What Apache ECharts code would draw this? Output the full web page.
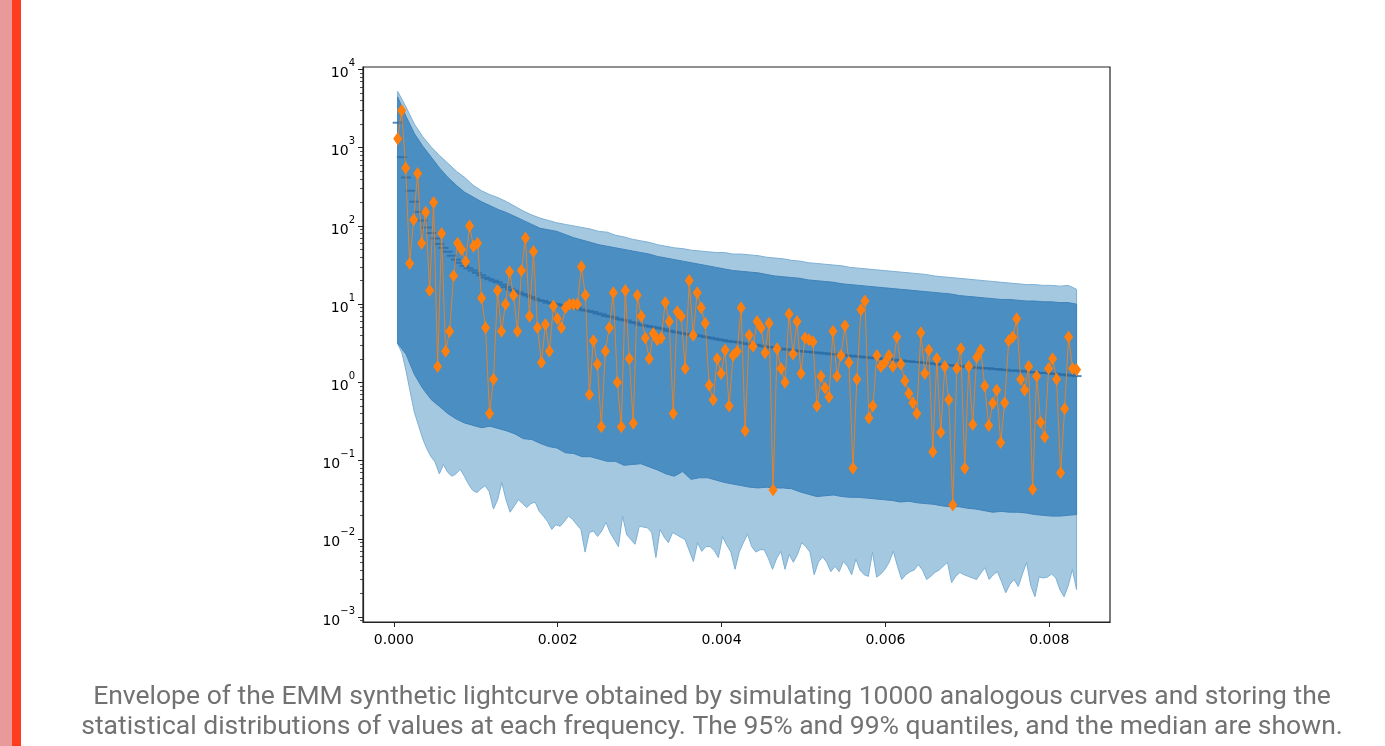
<!DOCTYPE html>
<html><head><meta charset="utf-8">
<script src="https://cdn.jsdelivr.net/npm/echarts@6/dist/echarts.min.js"></script>
<style>html,body{margin:0;padding:0;background:#fff}#c{width:1385px;height:746px}</style>
</head><body><div id="c"></div>
<script>
// frequency range of the periodogram (Hz)
const F_START = 0.0000463, F_END = 0.008333;
const xTicks = [0, 0.002, 0.004, 0.006, 0.008];
const yTicks = [1e-3, 1e-2, 1e-1, 1, 10, 100, 1000, 10000];
const yTickExp = ['−3','−2','−1','0','1','2','3','4'];
const caption1 = 'Envelope of the EMM synthetic lightcurve obtained by simulating 10000 analogous curves and storing the';
const caption2 = 'statistical distributions of values at each frequency. The 95% and 99% quantiles, and the median are shown.';

// observed synthetic lightcurve power (orange diamonds)
const observed = [1300,3000,550,33,120,470,60,150,15,200,1.6,80,2.5,4.5,23,60,50,35,100,55,60,12,5,0.4,1.1,15,4.5,10,26,13,4.5,27,70,7,47,5,1.8,5.5,2.5,9.5,6.5,5,9,10,10,10,30,13,0.7,3.4,1.7,0.27,2.5,5,14,1,0.27,15,2,0.3,13,7,3.7,2,4.2,3.5,3.7,10.5,6,0.4,8,7,1.5,20,4,14,9,5.7,0.92,0.6,2,1.3,2.6,0.5,2.2,2.5,9,0.24,4,2.9,6,5,2.4,5.7,0.042,2.7,1.5,1,7.5,2.3,6,1.3,3.7,3.5,3.3,0.5,1.2,0.85,0.65,4.5,1.2,2.2,5.3,1.8,0.08,1.1,8.5,11,0.35,0.5,2.2,1.6,1.8,2.2,1.6,3.8,1.7,1.05,0.72,0.55,0.4,4.3,1.3,2.6,0.13,2,0.23,1.6,0.6,0.027,1.5,2.7,0.08,1.6,0.29,2.1,2.6,0.9,0.28,0.54,0.8,0.17,0.55,3.4,3.8,6.5,1.1,0.8,1.6,0.043,1.2,0.31,0.2,1.5,2,1.1,0.07,0.46,3.8,1.5,1.45];

// log10 of the median of the simulations
const medianLog = [3.32,2.88,2.62,2.45,2.31,2.18,2.07,1.98,1.91,1.84,1.77,1.72,1.67,1.62,1.57,1.53,1.49,1.46,1.43,1.40,1.37,1.34,1.32,1.30,1.28,1.25,1.22,1.19,1.17,1.15,1.13,1.11,1.09,1.07,1.05,1.04,1.02,1.01,1.00,0.99,0.98,0.97,0.96,0.95,0.93,0.92,0.91,0.90,0.88,0.87,0.85,0.84,0.83,0.81,0.80,0.79,0.77,0.76,0.74,0.73,0.72,0.71,0.70,0.69,0.68,0.66,0.65,0.64,0.63,0.62,0.61,0.61,0.60,0.59,0.58,0.57,0.56,0.55,0.54,0.53,0.52,0.52,0.51,0.50,0.49,0.48,0.48,0.47,0.46,0.45,0.45,0.44,0.43,0.42,0.42,0.41,0.40,0.40,0.39,0.39,0.38,0.38,0.37,0.37,0.36,0.36,0.35,0.35,0.34,0.34,0.33,0.33,0.32,0.32,0.31,0.31,0.30,0.30,0.29,0.29,0.28,0.28,0.27,0.27,0.26,0.26,0.25,0.25,0.24,0.24,0.23,0.23,0.22,0.22,0.21,0.21,0.20,0.20,0.19,0.19,0.18,0.18,0.18,0.17,0.17,0.16,0.16,0.15,0.15,0.15,0.14,0.14,0.13,0.13,0.12,0.12,0.12,0.11,0.11,0.10,0.10,0.09,0.09,0.08];

// log10 of the 99% quantile band (upper / lower)
const upper99Log = [3.72,3.52,3.30,3.14,3.01,2.90,2.80,2.70,2.62,2.52,2.45,2.40,2.36,2.31,2.25,2.19,2.14,2.10,2.07,2.04,2.02,2.00,1.98,1.96,1.93,1.92,1.88,1.86,1.83,1.81,1.79,1.76,1.74,1.72,1.71,1.69,1.68,1.67,1.66,1.66,1.64,1.64,1.63,1.62,1.60,1.59,1.58,1.56,1.55,1.53,1.52,1.51,1.50,1.49,1.47,1.46,1.45,1.44,1.43,1.42,1.41,1.40,1.39,1.38,1.36,1.35,1.34,1.33,1.32,1.31,1.30,1.29,1.28,1.27,1.26,1.25,1.25,1.24,1.24,1.23,1.24,1.19];
const lower99Log = [0.49,0.38,0.15,-0.12,-0.38,-0.55,-0.72,-0.85,-0.95,-1.02,-1.17,-1.05,-1.15,-1.20,-1.17,-1.11,-1.20,-1.30,-1.38,-1.41,-1.36,-1.32,-1.40,-1.62,-1.50,-1.28,-1.50,-1.66,-1.58,-1.50,-1.55,-1.60,-1.55,-1.53,-1.65,-1.71,-1.78,-1.88,-1.82,-1.84,-1.78,-1.71,-1.75,-1.82,-1.88,-2.17,-1.92,-1.90,-1.97,-1.90,-1.79,-1.92,-2.01,-2.10,-1.71,-1.95,-2.01,-2.07,-1.84,-1.85,-1.86,-1.92,-2.24,-1.88,-1.98,-2.05,-1.92,-1.95,-1.98,-2.01,-2.15,-2.29,-2.05,-2.16,-2.10,-2.10,-2.15,-2.24,-1.97,-2.08,-2.17,-2.39,-2.17,-2.05,-1.94,-2.10,-2.17,-2.14,-2.14,-2.25,-2.39,-2.25,-2.16,-2.39,-2.20,-2.30,-2.20,-2.05,-2.10,-2.17,-2.46,-2.30,-2.23,-2.30,-2.42,-2.35,-2.42,-2.29,-2.35,-2.46,-2.26,-2.40,-2.46,-2.48,-2.17,-2.49,-2.45,-2.39,-2.30,-2.16,-2.35,-2.52,-2.46,-2.42,-2.40,-2.33,-2.40,-2.52,-2.48,-2.43,-2.40,-2.35,-2.30,-2.56,-2.48,-2.43,-2.46,-2.48,-2.50,-2.52,-2.44,-2.37,-2.52,-2.46,-2.42,-2.55,-2.69,-2.58,-2.52,-2.61,-2.45,-2.30,-2.60,-2.74,-2.49,-2.50,-2.49,-2.45,-2.50,-2.65,-2.74,-2.60,-2.39,-2.65];
// log10 of the 95% quantile band (upper / lower)
const upper95Log = [3.65,3.40,3.18,3.02,2.88,2.74,2.62,2.52,2.43,2.37,2.31,2.26,2.21,2.17,2.12,2.07,2.02,1.97,1.95,1.93,1.89,1.85,1.82,1.79,1.76,1.74,1.72,1.70,1.68,1.66,1.64,1.61,1.59,1.57,1.55,1.53,1.51,1.49,1.47,1.45,1.43,1.42,1.41,1.40,1.38,1.36,1.35,1.34,1.33,1.31,1.30,1.29,1.28,1.26,1.25,1.24,1.23,1.22,1.21,1.20,1.19,1.18,1.17,1.16,1.15,1.14,1.13,1.11,1.10,1.09,1.08,1.07,1.06,1.06,1.05,1.04,1.04,1.03,1.03,1.02,1.02,1.00];
const lower95Log = [0.50,0.36,0.10,-0.08,-0.22,-0.31,-0.40,-0.47,-0.52,-0.55,-0.58,-0.56,-0.59,-0.62,-0.66,-0.72,-0.73,-0.78,-0.82,-0.84,-0.90,-0.91,-0.95,-0.95,-0.98,-1.01,-1.01,-1.06,-1.05,-1.04,-1.08,-1.12,-1.17,-1.20,-1.14,-1.24,-1.22,-1.22,-1.25,-1.28,-1.30,-1.32,-1.34,-1.35,-1.34,-1.35,-1.35,-1.36,-1.40,-1.43,-1.46,-1.45,-1.44,-1.46,-1.47,-1.47,-1.48,-1.49,-1.50,-1.51,-1.53,-1.52,-1.54,-1.55,-1.56,-1.58,-1.59,-1.59,-1.61,-1.62,-1.64,-1.66,-1.65,-1.66,-1.66,-1.67,-1.69,-1.70,-1.71,-1.71,-1.70,-1.69];

function freqGrid(n) { const out = []; for (let i = 0; i < n; i++) out.push(F_START + (F_END - F_START) * i / (n - 1)); return out; }
const pow10 = v => Math.pow(10, v);
const minorTicks = [];
for (let e = -4; e <= 4; e++) for (let m = 2; m <= 9; m++) minorTicks.push(m * Math.pow(10, e));
const Y_MIN = 8.63e-4, Y_MAX = 10770;
const minorIn = minorTicks.filter(v => v > Y_MIN && v < Y_MAX);

function band(upLog, loLog, fill, stroke, z) {
  const fu = freqGrid(upLog.length), fl = freqGrid(loLog.length);
  return {
    type: 'custom', coordinateSystem: 'cartesian2d', z: z, silent: true, animation: false,
    data: [[F_START, 1]],
    renderItem: function (params, api) {
      const top = upLog.map((v, i) => api.coord([fu[i], pow10(v)]));
      const bot = loLog.map((v, i) => api.coord([fl[i], pow10(v)]));
      const poly = top.concat(bot.slice().reverse());
      return { type: 'polygon', shape: { points: poly }, style: { fill: fill, stroke: stroke, lineWidth: 1 } };
    }
  };
}

const chart = echarts.init(document.getElementById('c'), null, { renderer: 'canvas' });
const obsF = freqGrid(observed.length);
const medF = freqGrid(medianLog.length);
const axisColor = '#222';
chart.setOption({
  animation: false,
  backgroundColor: '#fff',
  grid: { left: 363, right: 275, top: 67, bottom: 124, show: true, borderColor: axisColor, borderWidth: 1.2, backgroundColor: 'transparent' },
  xAxis: {
    type: 'value', min: -0.000377, max: 0.008741,
    axisLine: { show: true, onZero: false, lineStyle: { color: axisColor, width: 1.2 } },
    axisTick: { show: true, customValues: xTicks, length: 5, lineStyle: { color: axisColor } },
    axisLabel: { customValues: xTicks, margin: 11, color: '#000', fontSize: 14, fontFamily: 'DejaVu Sans', formatter: v => v.toFixed(3) },
    splitLine: { show: false }
  },
  yAxis: [{
    type: 'log', position: 'left', min: Y_MIN, max: Y_MAX,
    axisLine: { show: true, onZero: false, lineStyle: { color: axisColor, width: 1.2 } },
    axisTick: { show: true, customValues: yTicks, length: 5, lineStyle: { color: axisColor } },
    axisLabel: { customValues: yTicks, margin: 8, color: '#000', fontSize: 14, fontFamily: 'DejaVu Sans',
      formatter: v => { const k = yTicks.findIndex(t => Math.abs(Math.log10(t) - Math.log10(v)) < 1e-6); return k >= 0 ? '{b|10}{s|' + yTickExp[k] + '}' : ''; },
      rich: {
        b: { fontSize: 14, fontFamily: 'DejaVu Sans', color: '#000', lineHeight: 22, verticalAlign: 'bottom' },
        s: { fontSize: 10, fontFamily: 'DejaVu Sans', color: '#000', lineHeight: 12, verticalAlign: 'top' }
      } },
    splitLine: { show: false }, minorTick: { show: false }
  }, {
    type: 'log', position: 'left', min: Y_MIN, max: Y_MAX,
    axisLine: { show: false, onZero: false },
    axisTick: { show: true, customValues: minorIn, length: 3, lineStyle: { color: axisColor, width: 0.8 } },
    axisLabel: { show: false }, splitLine: { show: false }
  }],
  graphic: [
    { type: 'rect', shape: { x: 0, y: 0, width: 12, height: 746 }, style: { fill: '#e89a9a' }, silent: true },
    { type: 'rect', shape: { x: 12, y: 0, width: 9, height: 746 }, style: { fill: '#ff3c1e' }, silent: true },
    { type: 'text', x: 712, y: 697, style: { text: caption1, fontSize: 26.5, fontFamily: 'Roboto', fill: '#727272', align: 'center', verticalAlign: 'middle', textAlign: 'center', textVerticalAlign: 'middle' }, silent: true },
    { type: 'text', x: 712, y: 727, style: { text: caption2, fontSize: 26.5, fontFamily: 'Roboto', fill: '#727272', align: 'center', verticalAlign: 'middle', textAlign: 'center', textVerticalAlign: 'middle' }, silent: true }
  ],
  series: [
    band(upper99Log, lower99Log, '#a5c8e1', '#7cb0d5', 1),
    band(upper95Log, lower95Log, '#4a8ec2', '#3f83ba', 2),
    { type: 'scatter', z: 3, silent: true, symbol: 'rect', symbolSize: [10, 2],
      itemStyle: { color: '#2a6ea8' },
      data: medF.map((f, i) => [f, pow10(medianLog[i])]) },
    { type: 'line', z: 4, silent: true, symbol: 'diamond', symbolSize: [9, 13], showSymbol: true, showAllSymbol: true,
      lineStyle: { color: '#ff7f0e', width: 1, opacity: 0.85 }, itemStyle: { color: '#ff7f0e' },
      data: obsF.map((f, i) => [f, observed[i]]) }
  ]
});
</script></body></html>
